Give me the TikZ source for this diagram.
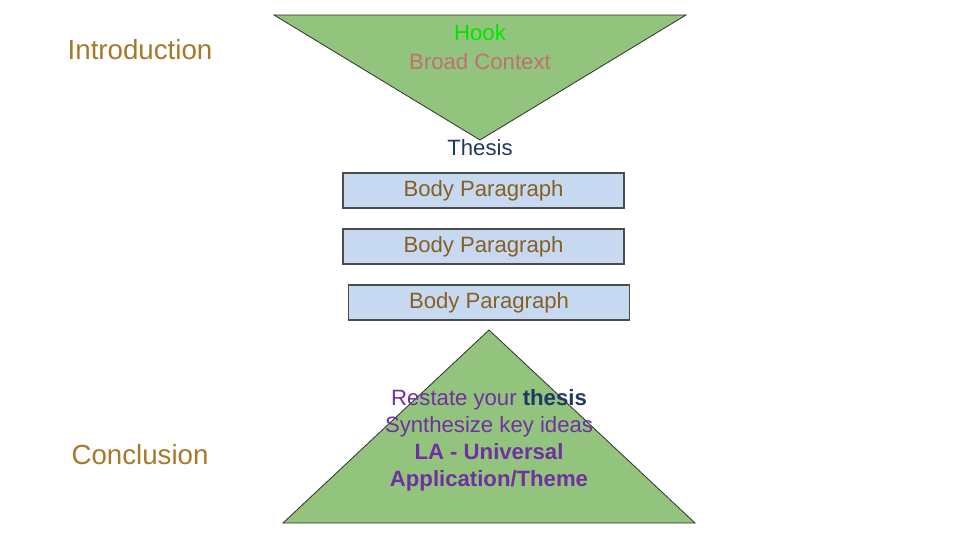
\documentclass[tikz,border=0pt]{standalone}
\usepackage{fontspec}
\setmainfont{Liberation Sans}
\usetikzlibrary{positioning}
\definecolor{triGreen}{HTML}{93C47D}
\definecolor{boxBlue}{HTML}{C6D9F1}
\definecolor{labBrown}{HTML}{A8782A}
\definecolor{navy}{HTML}{1F3864}
\definecolor{purp}{HTML}{7030A0}
\definecolor{rose}{HTML}{C07070}
\begin{document}
\begin{tikzpicture}[x=1in,y=1in,
    tri/.style={fill=triGreen, draw=black!80, line width=0.6pt},
    para/.style={rectangle, draw=black!70, line width=1pt, fill=boxBlue, minimum width=2.81in, minimum height=0.35in, font=\fontsize{16}{19}\selectfont, text=labBrown!80!black, inner sep=0pt},
    side/.style={font=\fontsize{20}{24}\selectfont, text=labBrown}
]
\useasboundingbox (0,0) rectangle (9.6,5.4);

% funnel at the top
\draw[tri] (2.74,5.25) -- (6.86,5.25) -- (4.80,4.00) -- cycle;
\node[text={rgb,255:red,0;green,230;blue,0}, font=\fontsize{16}{19}\selectfont] (hook) at (4.80,5.07) {Hook};
\node[text=rose, font=\fontsize{16}{19}\selectfont] (context) at (4.80,4.78) {Broad Context};
\node[text=navy, font=\fontsize{16}{19}\selectfont] (thesis) at (4.80,3.92) {Thesis};
\node[side] (intro) at (1.40,4.90) {Introduction};

% body paragraphs
\node[para] (body1) at (4.835,3.495) {Body Paragraph};
\node[para] (body2) at (4.835,2.935) {Body Paragraph};
\node[para] (body3) at (4.89,2.375) {Body Paragraph};

% pyramid at the bottom
\draw[tri] (2.83,0.17) -- (6.95,0.17) -- (4.89,2.10) -- cycle;
\node[text=purp, align=center, font=\fontsize{16}{19.5}\selectfont] (restate) at (4.89,1.00)
    {Restate your \textcolor{navy}{\textbf{thesis}}\\Synthesize key ideas\\\textbf{LA - Universal}\\\textbf{Application/Theme}};
\node[side] (concl) at (1.40,0.85) {Conclusion};

\end{tikzpicture}
\end{document}
